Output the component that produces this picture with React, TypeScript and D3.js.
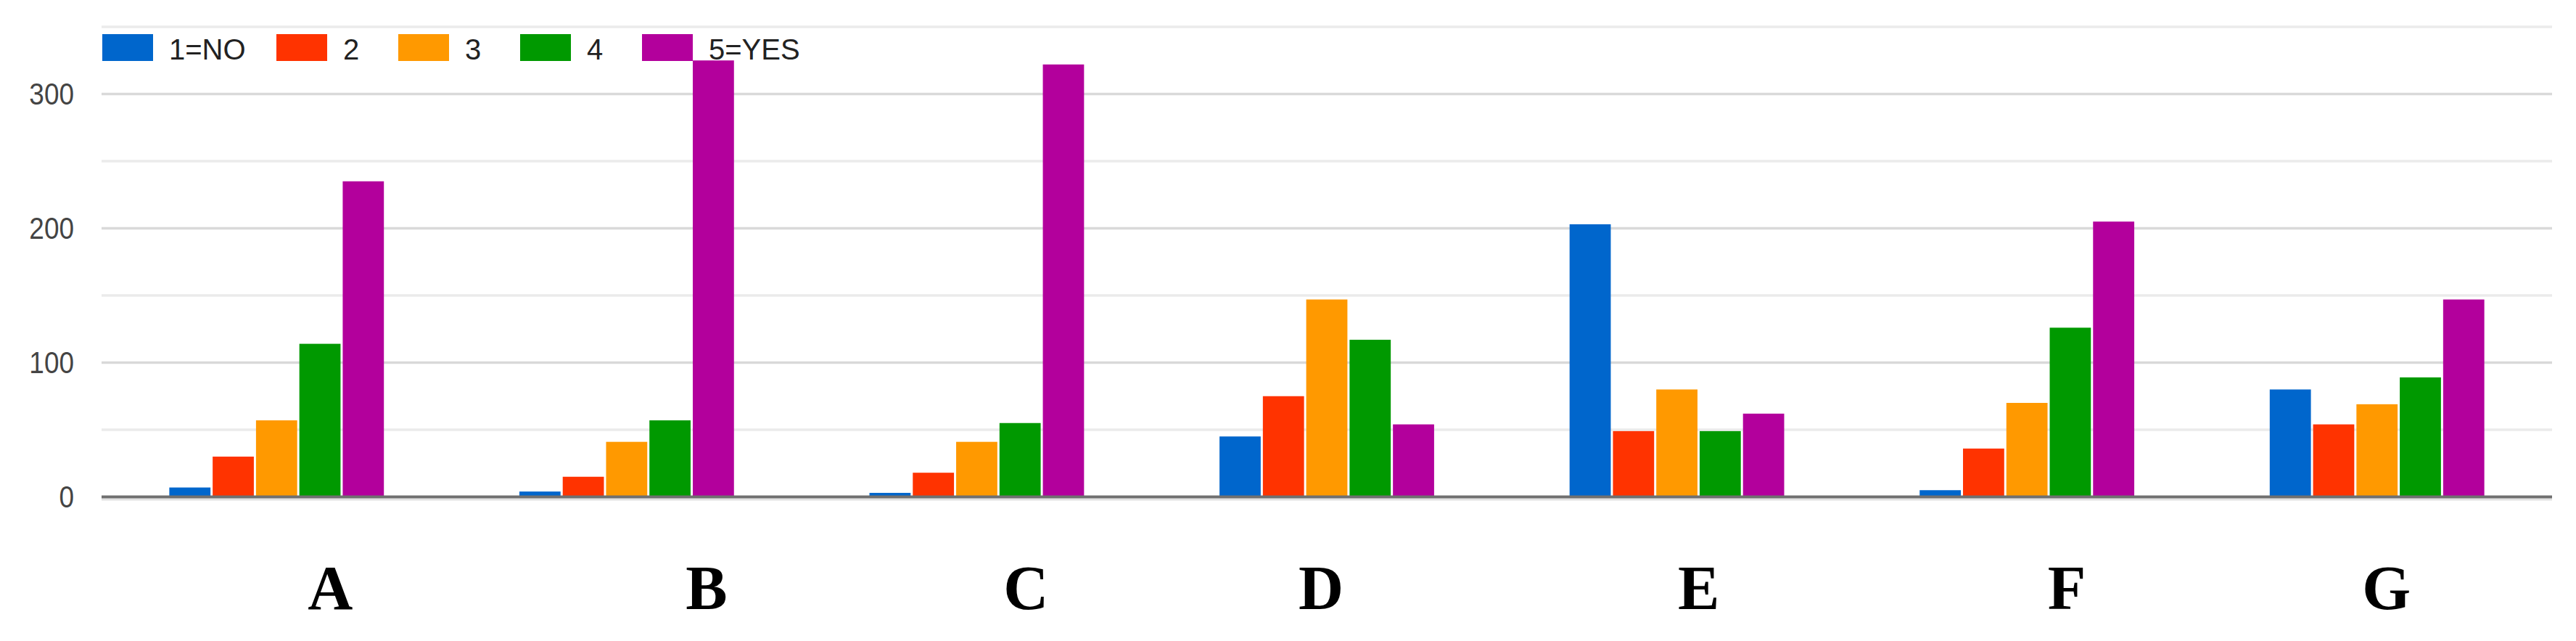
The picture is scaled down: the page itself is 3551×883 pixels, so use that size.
import React from "react";
import * as d3 from "d3";

const categories = ["A", "B", "C", "D", "E", "F", "G"];
const seriesNames = ["1=NO", "2", "3", "4", "5=YES"];
const seriesColors = ["#0066cc", "#ff3300", "#ff9900", "#009900", "#b3009c"];
const s1 = [7, 4, 3, 45, 203, 5, 80];
const s2 = [30, 15, 18, 75, 49, 36, 54];
const s3 = [57, 41, 41, 147, 80, 70, 69];
const s4 = [114, 57, 55, 117, 49, 126, 89];
const s5 = [235, 325, 322, 54, 62, 205, 147];
const seriesValues = [s1, s2, s3, s4, s5];
const yTickLabels = [0, 100, 200, 300];
const yGridValues = [0, 50, 100, 150, 200, 250, 300, 350];
// horizontal offsets of the hand-placed category letters (layout)
const labelShift = [74, 110, 68, -8, 30, 55, 13];
const legendX = [141, 381, 549, 717, 885];

const W = 3551;
const H = 883;
const left = 140;
const right = 3518;

export default function App() {
  const x0 = d3
    .scaleBand<string>()
    .domain(categories)
    .range([left, right])
    .paddingInner(0.387)
    .paddingOuter(0.1935);
  const x1 = d3
    .scaleBand<number>()
    .domain(d3.range(seriesNames.length))
    .range([0, x0.bandwidth()])
    .paddingInner(0.05)
    .paddingOuter(0);
  const y = d3.scaleLinear().domain([0, 350]).range([684.5, 37]);

  return (
    <svg
      width={W}
      height={H}
      style={{ position: "absolute", left: 0, top: 0, background: "#fff" }}
    >
      <rect x={0} y={0} width={W} height={H} fill="#fff" />
      {yGridValues.map((v) =>
        v === 0 ? null : (
          <line
            key={"g" + v}
            x1={left}
            x2={right}
            y1={y(v)}
            y2={y(v)}
            stroke={v % 100 === 0 ? "#d9d9d9" : "#ebebeb"}
            strokeWidth={3.5}
          />
        )
      )}
      {yTickLabels.map((v) => (
        <text
          key={"t" + v}
          transform={`translate(102,${y(v)}) scale(0.88,1)`}
          textAnchor="end"
          dominantBaseline="central"
          fontFamily="Arial, 'Liberation Sans', sans-serif"
          fontSize={42}
          fill="#444"
        >
          {v}
        </text>
      ))}
      {categories.map((c, ci) => (
        <g key={c} transform={`translate(${x0(c)},0)`}>
          {seriesValues.map((vals, si) => (
            <rect
              key={si}
              x={x1(si)}
              y={y(vals[ci])}
              width={x1.bandwidth()}
              height={y(0) - y(vals[ci])}
              fill={seriesColors[si]}
            />
          ))}
        </g>
      ))}
      <line x1={left} x2={right} y1={y(0) + 3.5} y2={y(0) + 3.5} stroke="#e2e2e2" strokeWidth={3} />
      <line x1={left} x2={right} y1={y(0)} y2={y(0)} stroke="#707070" strokeWidth={4} />
      {categories.map((c, ci) => (
        <text
          key={"l" + c}
          x={(x0(c) as number) + x0.bandwidth() / 2 + labelShift[ci]}
          y={839}
          textAnchor="middle"
          fontFamily="'Times New Roman', 'Liberation Serif', serif"
          fontWeight="bold"
          fontSize={86}
          fill="#000"
        >
          {c}
        </text>
      ))}
      {seriesNames.map((n, i) => (
        <g key={"lg" + n} transform={`translate(${legendX[i]},47)`}>
          <rect x={0} y={0} width={70} height={37} fill={seriesColors[i]} />
          <text
            x={92}
            y={35}
            fontFamily="Arial, 'Liberation Sans', sans-serif"
            fontSize={40}
            fill="#222"
          >
            {n}
          </text>
        </g>
      ))}
    </svg>
  );
}
